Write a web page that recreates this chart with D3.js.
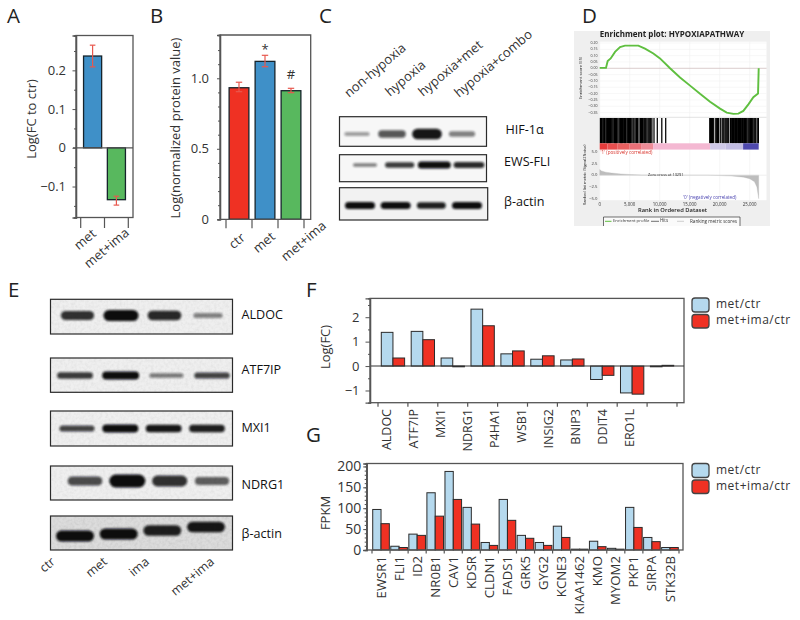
<!DOCTYPE html>
<html><head><meta charset="utf-8">
<script src="https://cdn.jsdelivr.net/npm/d3@7/dist/d3.min.js"></script>
<style>html,body{margin:0;padding:0;background:#fff}svg{display:block}text{font-family:"Open Sans",sans-serif}</style>
</head><body><div id="c"></div>
<script>
// ---------- data ----------
const catsA = ["met","met+ima"];
const valsA = [0.237,-0.134];
const errLowA = [0.209,-0.148];
const errHighA = [0.265,-0.125];

const catsB = ["ctr","met","met+ima"];
const valsB = [0.933,1.12,0.912];
const errLowB = [0.905,1.082,0.898];
const errHighB = [0.972,1.163,0.929];
const notesB = ["","*","#"];

const catsF = ["ALDOC","ATF7IP","MXI1","NDRG1","P4HA1","WSB1","INSIG2","BNIP3","DDIT4","ERO1L"];
const metF = [1.38,1.42,0.33,2.33,0.5,0.28,0.25,-0.55,-1.1,-0.03];
const comboF = [0.33,1.08,-0.03,1.65,0.62,0.42,0.29,-0.38,-1.15,0.03];

const catsG = ["EWSR1","FLI1","ID2","NR0B1","CAV1","KDSR","CLDN1","FADS1","GRK5","GYG2","KCNE3","KIAA1462","KMO","MYOM2","PKP1","SIRPA","STK32B"];
const metG = [97,9,38,137,188,102,18,121,35,18,57,2,21,4,102,30,6];
const comboG = [63,6,35,81,121,62,11,71,28,11,30,2,8,2,54,20,6];
const seriesNames = ["met/ctr","met+ima/ctr"];

const lanesC = ["non-hypoxia","hypoxia","hypoxia+met","hypoxia+combo"];
const hif = [0.22,0.6,0.95,0.38];
const ews = [0.4,0.75,1,0.85];
const actinC = [1,1,0.9,1];
const lanesE = ["ctr","met","ima","met+ima"];
const aldoc = [0.8,1,0.85,0.35];
const atf7ip = [0.75,1,0.4,0.7];
const mxi1 = [0.7,1,0.95,0.9];
const ndrg1 = [0.65,1,0.8,0.55];
const actinE = [1,1,0.9,0.95];
const actinDriftE = [0,-0.2,-0.55,-0.9];

const esRank = [0,1050,1330,1830,2555,3390,4220,5330,6440,7550,8940,10050,11720,13390,15060,16720,18390,20060,21170,22280,23110,23940,24780,25610,26390,26500];
const esVal = [0.003,0.003,0.057,0.078,0.13,0.168,0.179,0.179,0.179,0.155,0.117,0.078,0,-0.073,-0.137,-0.202,-0.264,-0.319,-0.35,-0.36,-0.358,-0.337,-0.285,-0.228,-0.199,0];
const hits = [120,280,420,600,800,1020,1180,1260,1340,1420,1500,1580,1660,1740,1820,2000,2180,2360,2480,2560,2640,2720,2800,2880,3050,3250,3400,3480,3560,3640,3720,3800,4000,4150,4280,4400,4600,4800,4950,5050,5150,5350,5550,5700,5900,6100,6200,6300,6550,6800,6950,7150,7350,7500,7600,7850,8050,8200,8350,8500,8700,9050,9600,10350,11000,18350,18450,18550,18650,18750,18850,19000,19350,19500,19650,19800,20100,20400,20550,20700,20900,21050,21200,21350,21500,21800,22000,22150,22300,22500,22650,22800,23000,23150,23300,23450,23600,23800,24000,24150,24300,24500,24700,24850,25000,25150,25300,25500,25700,25850,26000,26250,26450];
const metricRank = [0,300,1000,2000,3500,5000,7000,9000,11000,18000,20000,22000,24000,25000,25800,26200,26500];
const metricVal = [1.2,0.9,0.65,0.45,0.28,0.15,0.06,0.02,0,-0.02,-0.08,-0.18,-0.42,-0.75,-1.4,-2.5,-5];
const barRanks = [0,1300,3000,5000,7000,8900,18400,21000,23900,26500];
const barColors = ["#e43a3a","#e85050","#e96060","#ea7078","#ee8c98","#f4b8d2","#cfc9e8","#c2bce2","#4f49ae"];
const esTicks = [0.2,0.15,0.1,0.05,0,-0.05,-0.1,-0.15,-0.2,-0.25,-0.3,-0.35];
const metricTicks = [5,2.5,0,-2.5,-5];
const rankTicks = [0,5000,10000,15000,20000,25000];

// ---------- page ----------
const svg = d3.select("#c").append("svg").attr("width",800).attr("height",620);
const defs = svg.append("defs");
[["soft",1.3],["soft2",1.0],["tiny",0.4]].forEach(([id,s])=>{
  defs.append("filter").attr("id",id).attr("x","-30%").attr("y","-60%").attr("width","160%").attr("height","220%")
    .append("feGaussianBlur").attr("stdDeviation",s);
});
const noise = defs.append("filter").attr("id","grain").attr("x",0).attr("y",0).attr("width","100%").attr("height","100%");
noise.append("feTurbulence").attr("type","fractalNoise").attr("baseFrequency",0.35).attr("numOctaves",2).attr("seed",4);
noise.append("feColorMatrix").attr("type","matrix").attr("values","0 0 0 0 0.35  0 0 0 0 0.35  0 0 0 0 0.35  0.9 0 0 0 -0.32");

const INK="#333", AX="#555", BLUE="#3f90c8", GREEN="#58b85e", RED="#ef3123", SKY="#b5d9ee", ERR="#e8584e", EDGE="#16242c";
const letters=[["A",7,22.5],["B",150,22.5],["C",319,22.5],["D",582,22.5],["E",8,297],["F",306,297],["G",306,442]];
svg.selectAll("text.letter").data(letters).join("text").attr("class","letter")
  .attr("x",d=>d[1]).attr("y",d=>d[2]).attr("font-size",20.5).attr("fill","#222").text(d=>d[0]);

function fmtTick(d){return d===0?"0":d3.format(".1f")(d);}
function leftAxis(g,y,x,major,minor,fmt,fs,majorLen,minorLen,pad){
  const a=g.append("g").attr("transform",`translate(${x},0)`);
  a.call(d3.axisLeft(y).tickValues(minor).tickSize(minorLen).tickFormat(""));
  const b=g.append("g").attr("transform",`translate(${x},0)`);
  b.call(d3.axisLeft(y).tickValues(major).tickSize(majorLen).tickPadding(pad).tickFormat(fmt));
  [a,b].forEach(s=>{s.select(".domain").attr("stroke",AX).attr("stroke-width",1.3);
    s.selectAll("line").attr("stroke",AX).attr("stroke-width",1);
    s.selectAll("text").attr("font-size",fs).attr("fill",INK).style("font-family",'"Open Sans",sans-serif');});
}
function bandTicks(g,x,y1,len){
  const [r0]=x.range(), st=x.step();
  g.selectAll(null).data(d3.range(x.domain().length+1)).join("line")
    .attr("x1",i=>r0+i*st).attr("x2",i=>r0+i*st).attr("y1",y1).attr("y2",y1+len)
    .attr("stroke",AX).attr("stroke-width",1.2);
}
function yTitle(x,y,t,fs){svg.append("text").attr("transform",`translate(${x},${y}) rotate(-90)`).attr("text-anchor","middle")
  .attr("dominant-baseline","middle").attr("font-size",fs).attr("fill",INK).text(t);}
function slanted(x,y,t,fs,anchor,ang){svg.append("text").attr("transform",`translate(${x},${y}) rotate(${ang})`).attr("text-anchor",anchor)
  .attr("font-size",fs).attr("fill",INK).text(t);}
function errBars(g,x,y,cats,lo,hi,cap){
  cats.forEach((c,i)=>{
    const cx=x(c)+x.bandwidth()/2;
    g.append("line").attr("x1",cx).attr("x2",cx).attr("y1",y(lo[i])).attr("y2",y(hi[i])).attr("stroke",ERR).attr("stroke-width",1.2);
    [lo[i],hi[i]].forEach(v=>g.append("line").attr("x1",cx-cap).attr("x2",cx+cap).attr("y1",y(v)).attr("y2",y(v)).attr("stroke",ERR).attr("stroke-width",1.2));
  });
}

// ---------- A ----------
{
  const g=svg.append("g");
  const y=d3.scaleLinear().domain([-0.18,0.29]).range([217.5,35.5]);
  const x=d3.scaleBand().domain(catsA).range([80.7,128.3]).paddingInner(0.24).paddingOuter(0.12);
  g.selectAll("rect.b").data(catsA).join("rect").attr("class","b")
    .attr("x",d=>x(d)).attr("width",x.bandwidth())
    .attr("y",(d,i)=>y(Math.max(valsA[i],0))).attr("height",(d,i)=>Math.abs(y(valsA[i])-y(0)))
    .attr("fill",(d,i)=>i?GREEN:BLUE).attr("stroke",EDGE).attr("stroke-width",1.3);
  errBars(g,x,y,catsA,errLowA,errHighA,2.8);
  g.append("rect").attr("x",76).attr("y",35.5).attr("width",57).attr("height",182).attr("fill","none").attr("stroke",AX).attr("stroke-width",1.3);
  g.append("line").attr("x1",73).attr("x2",133).attr("y1",y(0)).attr("y2",y(0)).attr("stroke",AX).attr("stroke-width",1.2);
  leftAxis(g,y,76,[-0.1,0,0.1,0.2],[-0.15,-0.05,0.05,0.15,0.25],fmtTick,13,3.5,2,6.5);
  bandTicks(g,x,217.5,10.5);
  yTitle(33,119,"Log(FC to ctr)",13);
  slanted(97,235,"met",13,"end",-40);
  slanted(130,234,"met+ima",13,"end",-40);
}
// ---------- B ----------
{
  const g=svg.append("g");
  const y=d3.scaleLinear().domain([0,1.307]).range([219.3,35]);
  const x=d3.scaleBand().domain(catsB).range([226,304]).paddingInner(0.24).paddingOuter(0.12);
  g.selectAll("rect.b").data(catsB).join("rect").attr("class","b")
    .attr("x",d=>x(d)).attr("width",x.bandwidth())
    .attr("y",(d,i)=>y(valsB[i])).attr("height",(d,i)=>y(0)-y(valsB[i]))
    .attr("fill",(d,i)=>[RED,BLUE,GREEN][i]).attr("stroke",EDGE).attr("stroke-width",1.3);
  errBars(g,x,y,catsB,errLowB,errHighB,3.2);
  g.append("path").attr("d","M220,219.3V35H310.7V219.3H220").attr("fill","none").attr("stroke",AX).attr("stroke-width",1.3);
  leftAxis(g,y,220,[0,0.5,1],[0.1,0.2,0.3,0.4,0.6,0.7,0.8,0.9,1.1,1.2],fmtTick,13,3,2,8);
  bandTicks(g,x,219.3,9);
  notesB.forEach((t,i)=>{ if(t) g.append("text").attr("x",x(catsB[i])+x.bandwidth()/2).attr("y",y(errHighB[i])-(i===1?1:9))
    .attr("text-anchor","middle").attr("font-size",13).attr("fill",INK).text(t);});
  yTitle(176.5,128,"Log(normalized protein value)",13);
  slanted(246,239,"ctr",13,"end",-40);
  slanted(276,238,"met",13,"end",-40);
  slanted(327,227,"met+ima",13,"end",-40);
}
// ---------- blots ----------
function blot(g,b){
  g.append("rect").attr("x",b.x0).attr("y",b.y0).attr("width",b.x1-b.x0).attr("height",b.y1-b.y0).attr("fill",b.bg);
  if(b.grain) g.append("rect").attr("x",b.x0).attr("y",b.y0).attr("width",b.x1-b.x0).attr("height",b.y1-b.y0).attr("filter","url(#grain)").attr("opacity",b.grain);
  const lane=d3.scalePoint().domain(d3.range(b.vals.length)).range(b.lanes);
  const thick=d3.scaleLinear().domain([0,1]).range(b.thick);
  const wide=d3.scaleLinear().domain([0,1]).range(b.wide);
  const dark=d3.scaleLinear().domain([0,1]).range([0.2,1]);
  const drift=d3.scaleLinear().domain([-1,0]).range([b.cy-(b.driftPx||0),b.cy]);
  g.selectAll(null).data(b.vals).join("rect")
    .attr("x",(d,i)=>lane(i)-wide(d)/2).attr("width",d=>wide(d))
    .attr("y",(d,i)=>drift(b.drift?b.drift[i]:0)-thick(d)/2).attr("height",d=>thick(d))
    .attr("rx",d=>thick(d)/2).attr("fill","#0b0d10").attr("opacity",d=>dark(d)).attr("filter",`url(#${b.blur||"soft"})`);
  g.append("rect").attr("x",b.x0).attr("y",b.y0).attr("width",b.x1-b.x0).attr("height",b.y1-b.y0).attr("fill","none").attr("stroke","#2a2a2a").attr("stroke-width",1.2);
  g.append("text").attr("x",b.lx).attr("y",(b.ly)).attr("dominant-baseline","middle").attr("font-size",12.6).attr("font-weight",500).attr("fill","#111").text(b.label);
}
// ---------- C ----------
{
  const g=svg.append("g");
  const starts=[[349,98],[390,97],[423,97],[459,98]];
  lanesC.forEach((t,i)=>slanted(starts[i][0],starts[i][1],t,13,"start",-40));
  blot(g,{x0:339.5,x1:486.5,y0:116.7,y1:146.3,bg:"#f7f7f7",vals:hif,lanes:[357,462],cy:134,thick:[2,11],wide:[24,30],label:"HIF-1α",lx:505.5,ly:131});
  blot(g,{x0:339.5,x1:486.5,y0:154.7,y1:181.7,bg:"#f7f7f7",vals:ews,lanes:[365,469],cy:165,thick:[1,7],wide:[18,33],label:"EWS-FLI",lx:504,ly:163,blur:"soft2"});
  blot(g,{x0:339.5,x1:487.7,y0:187.7,y1:220,bg:"#f2f2f2",vals:actinC,lanes:[360,467],cy:205.5,thick:[2,7],wide:[18,30],label:"β-actin",lx:504,ly:203,blur:"soft2"});
}
// ---------- E ----------
{
  const g=svg.append("g");
  const common={x0:50.5,x1:232.5,bg:"#efefef",grain:0.3,lx:241.5};
  blot(g,{...common,y0:299.3,y1:334,vals:aldoc,lanes:[77.5,208],cy:315.5,thick:[2,11],wide:[26,35],label:"ALDOC",ly:316,blur:"soft2"});
  blot(g,{...common,y0:358,y1:392.3,vals:atf7ip,lanes:[75,212],cy:375.5,thick:[2,8],wide:[32,37],label:"ATF7IP",ly:371,blur:"soft2"});
  blot(g,{...common,y0:411,y1:446,vals:mxi1,lanes:[77,207],cy:428.5,thick:[2,8],wide:[33,36],label:"MXI1",ly:429,blur:"soft2"});
  blot(g,{...common,y0:466,y1:500,vals:ndrg1,lanes:[85,212],cy:481,thick:[2,13],wide:[32,36],label:"NDRG1",ly:486});
  blot(g,{...common,bg:"#dcdcdc",grain:0.5,y0:516,y1:550,vals:actinE,lanes:[75,206],cy:536,drift:actinDriftE,driftPx:10,thick:[4,11],wide:[36,38],label:"β-actin",ly:535,blur:"soft2"});
  const ends=[[56,563],[108,563],[150,563],[215,563]];
  lanesE.forEach((t,i)=>slanted(ends[i][0],ends[i][1],t,12.5,"end",-40));
}
// ---------- D ----------
{
  const g=svg.append("g").attr("filter","url(#tiny)");
  const L=599.7,R=766.5;
  const x=d3.scaleLinear().domain([0,28000]).range([L,L+168]);
  const yES=d3.scaleLinear().domain([0,0.2]).range([68.3,43]);
  const yM=d3.scaleLinear().domain([-5,5]).range([198.7,151.7]);
  g.append("rect").attr("x",574).attr("y",31).attr("width",196).attr("height",195).attr("fill","#efefef");
  g.append("rect").attr("x",L).attr("y",41.7).attr("width",R-L).attr("height",158.5).attr("fill","#fff");
  g.selectAll(null).data(rankTicks).join("line").attr("x1",d=>x(d)).attr("x2",d=>x(d)).attr("y1",41.7).attr("y2",200).attr("stroke","#f0f0f0").attr("stroke-width",0.6);
  g.selectAll(null).data(esTicks).join("line").attr("x1",L).attr("x2",R).attr("y1",d=>yES(d)).attr("y2",d=>yES(d)).attr("stroke","#f1f1f1").attr("stroke-width",0.6);
  g.append("line").attr("x1",L).attr("x2",R).attr("y1",yES(0)).attr("y2",yES(0)).attr("stroke","#d8c8c8").attr("stroke-width",0.9);
  g.append("line").attr("x1",L).attr("x2",R).attr("y1",117.3).attr("y2",117.3).attr("stroke","#cfcfcf").attr("stroke-width",0.6);
  g.selectAll(null).data(hits).join("line").attr("x1",d=>x(d)).attr("x2",d=>x(d)).attr("y1",118).attr("y2",143.3).attr("stroke","#000").attr("stroke-width",1.25);
  barColors.forEach((c,i)=>g.append("rect").attr("x",x(barRanks[i])).attr("width",x(barRanks[i+1])-x(barRanks[i])).attr("y",143.3).attr("height",6.3).attr("fill",c));
  g.append("path").datum(esRank).attr("d",d3.line().x(d=>x(d)).y((d,i)=>yES(esVal[i]))).attr("fill","none").attr("stroke","#5fbf3f").attr("stroke-width",1.9);
  g.append("path").datum(metricRank).attr("d",d3.area().x(d=>x(d)).y0(yM(0)).y1((d,i)=>yM(metricVal[i]))).attr("fill","#bdbdbd").attr("stroke","#b5b5b5").attr("stroke-width",0.3);
  g.append("line").attr("x1",L).attr("x2",R).attr("y1",yM(0)).attr("y2",yM(0)).attr("stroke","#dedede").attr("stroke-width",0.5);
  const T=(x0,y0,t,fs,col,anc,w)=>g.append("text").attr("x",x0).attr("y",y0).attr("font-size",fs).attr("fill",col).attr("text-anchor",anc||"start").attr("dominant-baseline","middle").attr("font-weight",w||400).text(t);
  T(672,35,"Enrichment plot: HYPOXIAPATHWAY",8,"#222","middle",700);
  esTicks.forEach(d=>T(597.5,yES(d),d3.format(".2f")(d),3.6,"#333","end"));
  metricTicks.forEach(d=>T(597.5,yM(d),d3.format(".1f")(d),4.2,"#333","end"));
  rankTicks.forEach(d=>T(x(d),205,d3.format(",")(d),4.4,"#333","middle"));
  T(672.5,210.7,"Rank in Ordered Dataset",5.8,"#222","middle",600);
  T(600.5,152.6,"'1' (positively correlated)",4.6,"#d8322a");
  T(683,197.5,"'0' (negatively correlated)",4.6,"#4a43b0");
  T(648,175.4,"Zero cross at 13291",3.9,"#222");
  g.append("text").attr("transform","translate(582,78) rotate(-90)").attr("text-anchor","middle").attr("font-size",4.2).attr("fill","#222").text("Enrichment score (ES)");
  g.append("text").attr("transform","translate(586,175) rotate(-90)").attr("text-anchor","middle").attr("font-size",4).attr("fill","#222").text("Ranked list metric (Signal2Noise)");
  g.append("path").attr("d","M603.5,226V217H740V226").attr("fill","#fafafa").attr("stroke","#333").attr("stroke-width",0.7);
  g.append("line").attr("x1",605).attr("x2",611.5).attr("y1",221.3).attr("y2",221.3).attr("stroke","#5fbf3f").attr("stroke-width",1);
  T(613,221.3,"Enrichment profile",4.2,"#333");
  g.append("line").attr("x1",651).attr("x2",659).attr("y1",221.3).attr("y2",221.3).attr("stroke","#333").attr("stroke-width",0.7);
  T(660,221.3,"Hits",4.4,"#333");
  g.append("line").attr("x1",677).attr("x2",684).attr("y1",221.3).attr("y2",221.3).attr("stroke","#bbb").attr("stroke-width",0.7);
  T(690,221.3,"Ranking metric scores",4.6,"#333");
}
// ---------- grouped bars F/G ----------
function grouped(o){
  const g=svg.append("g");
  const x=d3.scaleBand().domain(o.cats).range(o.xr).paddingInner(o.pi).paddingOuter(o.pi/2);
  const x2=d3.scaleBand().domain(seriesNames).range([0,x.bandwidth()]);
  const y=d3.scaleLinear().domain(o.yd).range([o.b,o.t]);
  seriesNames.forEach((s,k)=>{
    const vals=k?o.combo:o.met;
    g.selectAll(null).data(o.cats).join("rect")
      .attr("x",d=>x(d)+x2(s)).attr("width",x2.bandwidth())
      .attr("y",(d,i)=>y(Math.max(vals[i],0))).attr("height",(d,i)=>Math.abs(y(vals[i])-y(0)))
      .attr("fill",k?RED:SKY).attr("stroke","#2b2b2b").attr("stroke-width",1);
  });
  g.append("rect").attr("x",o.l).attr("y",o.t).attr("width",o.r-o.l).attr("height",o.b-o.t).attr("fill","none").attr("stroke",AX).attr("stroke-width",1.3);
  if(o.yd[0]<0) g.append("line").attr("x1",o.l).attr("x2",o.r).attr("y1",y(0)).attr("y2",y(0)).attr("stroke","#333").attr("stroke-width",1.1);
  leftAxis(g,y,o.l,o.major,o.minor,d3.format("d"),o.fs,o.ml,2,o.pad);
  bandTicks(g,x,o.b,o.tick);
  const lab=o.labelRange?d3.scalePoint().domain(o.cats).range(o.labelRange):(d=>x(d)+x.bandwidth()/2+1);
  g.selectAll(null).data(o.cats).join("text")
    .attr("transform",d=>`translate(${lab(d)},${o.labelY}) rotate(-90)`).attr("text-anchor","end").attr("dominant-baseline","middle")
    .attr("font-size",o.labelFs).attr("fill",INK).text(d=>d);
  seriesNames.forEach((s,k)=>{
    const [y0,h]=o.leg[k];
    g.append("rect").attr("x",692).attr("y",y0).attr("width",17).attr("height",h).attr("rx",3).attr("fill",k?RED:SKY).attr("stroke","#444").attr("stroke-width",1.3);
    g.append("text").attr("x",716).attr("y",y0+h/2).attr("dominant-baseline","middle").attr("font-size",12).attr("letter-spacing",0.5).attr("fill",INK).text(s);
  });
}
grouped({cats:catsF,met:metF,combo:comboF,xr:[378,677],pi:0.22,yd:[-1.5,2.77],b:402.7,t:298.4,l:370,r:684,
  major:[-1,0,1,2],minor:[-0.5,0.5,1.5,2.5],fs:13,ml:4.5,pad:6,tick:4,labelRange:[388,631],labelY:409,labelFs:12.5,leg:[[298,14],[314.5,13.5]]});
yTitle(327,347,"Log(FC)",13);
grouped({cats:catsG,met:metG,combo:comboG,xr:[372,679],pi:0.08,yd:[0,207],b:550,t:463.5,l:366.7,r:683,
  major:[0,50,100,150,200],minor:d3.range(0,201,10),fs:14,ml:3.5,pad:2,tick:3.5,labelY:556,labelFs:13.2,leg:[[463.5,14],[480,13.5]]});
yTitle(327,513,"FPKM",13);
</script></body></html>
